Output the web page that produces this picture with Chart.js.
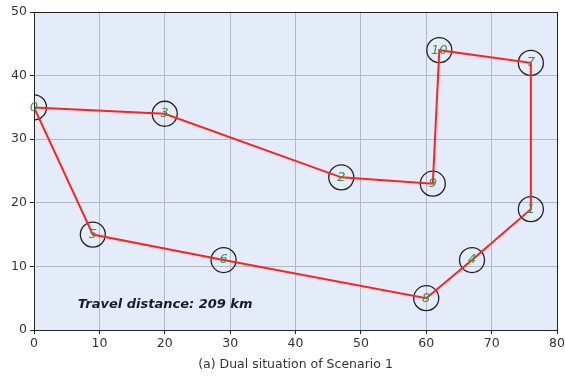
<!DOCTYPE html>
<html><head><meta charset="utf-8">
<script src="https://cdn.jsdelivr.net/npm/chart.js@4/dist/chart.umd.min.js"></script>
<style>html,body{margin:0;padding:0;background:#fff}#wrap{width:565px;height:378px}</style>
</head><body><div id="wrap"><canvas id="c" width="565" height="378"></canvas></div>
<script>
// Route order of nodes
const nodeIds = [0, 3, 2, 9, 10, 7, 1, 4, 8, 6, 5];
const nodeX   = [0, 20, 47, 61, 62, 76, 76, 67, 60, 29, 9];
const nodeY   = [35, 34, 24, 23, 44, 42, 19, 11, 5, 11, 15];
const xTicks = [0, 10, 20, 30, 40, 50, 60, 70, 80];
const yTicks = [0, 10, 20, 30, 40, 50];
const annotationText = 'Travel distance: 209 km';
const annotationPos = {x: 6.7, y: 4};
const xTitle = '(a) Dual situation of Scenario 1';

const nodes = nodeX.map((x, i) => ({x, y: nodeY[i]}));
const route = nodes.concat([nodes[0]]);

const FONT = 'DejaVu Sans';

const bgPlugin = {
  id: 'bg',
  beforeDraw(chart) {
    const {ctx, chartArea: a} = chart;
    ctx.save();
    ctx.fillStyle = '#e5ecf9';
    ctx.fillRect(a.left, a.top, a.right - a.left, a.bottom - a.top);
    ctx.restore();
  },
  afterDatasetsDraw(chart) {
    const {ctx, chartArea: a, scales} = chart;
    ctx.save();
    ctx.strokeStyle = '#222';
    ctx.lineWidth = 1;
    ctx.strokeRect(Math.round(a.left) + 0.5, Math.round(a.top) + 0.5, Math.round(a.right - a.left), Math.round(a.bottom - a.top));
    ctx.font = 'italic 13px ' + FONT;
    ctx.fillStyle = '#3d9150';
    ctx.textAlign = 'center';
    ctx.textBaseline = 'middle';
    nodeIds.forEach((id, i) => {
      ctx.fillText(String(id), scales.x.getPixelForValue(nodeX[i]), scales.y.getPixelForValue(nodeY[i]));
    });
    ctx.font = 'italic bold 13px ' + FONT;
    ctx.fillStyle = '#1a1a2a';
    ctx.textAlign = 'left';
    ctx.fillText(annotationText, scales.x.getPixelForValue(annotationPos.x), scales.y.getPixelForValue(annotationPos.y));
    ctx.restore();
  }
};

new Chart(document.getElementById('c'), {
  type: 'scatter',
  data: {
    datasets: [
      {
        type: 'line',
        data: route,
        borderColor: '#ff2020',
        borderWidth: 2,
        pointRadius: 0,
        fill: false,
        tension: 0,
        order: 1
      },
      {
        data: nodes,
        pointRadius: 12.5,
        pointHoverRadius: 12.5,
        pointBorderWidth: 1.3,
        borderColor: '#222',
        pointBorderColor: '#222',
        backgroundColor: 'rgba(0,0,0,0)',
        pointBackgroundColor: 'rgba(0,0,0,0)',
        clip: 0,
        order: 2
      }
    ]
  },
  options: {
    responsive: false,
    animation: false,
    devicePixelRatio: 1,
    layout: {autoPadding: false, padding: {left: 0, right: 0, top: 12, bottom: 6}},
    plugins: {legend: {display: false}, tooltip: {enabled: false}},
    scales: {
      x: {
        type: 'linear', min: 0, max: 80,
        afterBuildTicks(s) { s.ticks = xTicks.map(v => ({value: v})); },
        afterFit(s) { s.height = 42; s.paddingRight = 8; },
        grid: {color: '#b3b8c6', lineWidth: 1, tickLength: 4, tickColor: '#222', drawTicks: true},
        border: {display: false},
        ticks: {color: '#333', font: {family: FONT, size: 12.5}, padding: 2, maxRotation: 0},
        title: {display: true, text: xTitle, color: '#333', font: {family: FONT, size: 12.5}, padding: {top: 3, bottom: 0}}
      },
      y: {
        type: 'linear', min: 0, max: 50,
        afterBuildTicks(s) { s.ticks = yTicks.map(v => ({value: v})); },
        afterFit(s) { s.width = 34; },
        grid: {color: '#b3b8c6', lineWidth: 1, tickLength: 4, tickColor: '#222', drawTicks: true},
        border: {display: false},
        ticks: {color: '#333', font: {family: FONT, size: 12.5}, padding: 3}
      }
    }
  },
  plugins: [bgPlugin]
});
</script>
</body></html>
